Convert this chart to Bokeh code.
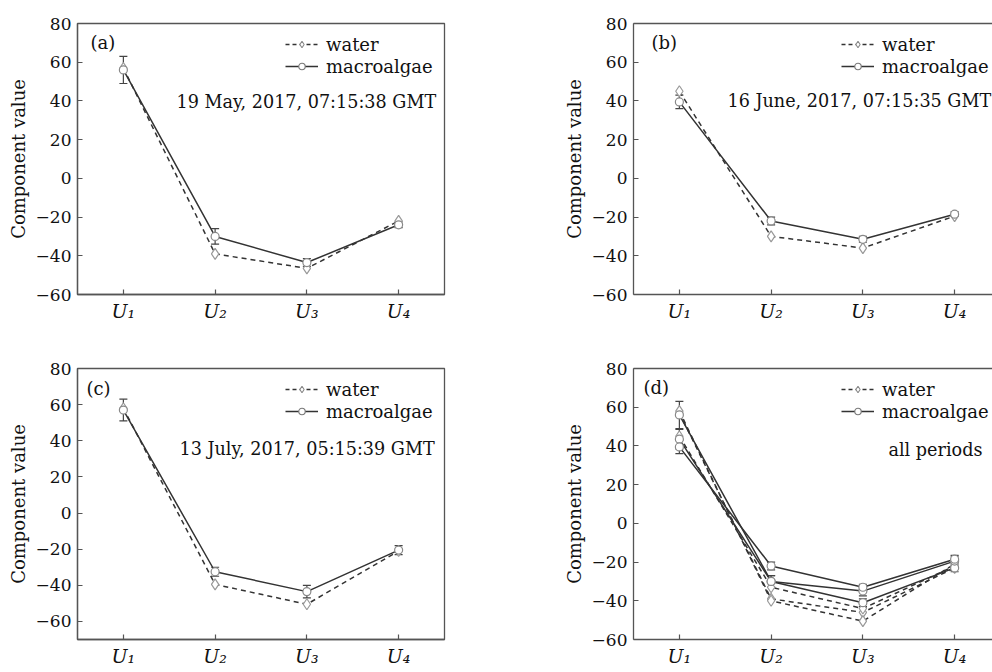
from bokeh.plotting import figure
from bokeh.models import (Range1d, FixedTicker, LinearAxis, Label, Legend, LegendItem,
                          Whisker, TeeHead, ColumnDataSource)
from bokeh.layouts import column, row
from bokeh.embed import file_html
from bokeh.resources import INLINE

# ---------------- data ----------------
categories = ["U\u2081", "U\u2082", "U\u2083", "U\u2084"]
y_ticks = [-60, -40, -20, 0, 20, 40, 60, 80]

a_water = [57, -39, -46.5, -22]
a_macro = [56, -30, -43.5, -24]
a_err = [7, 4, 2, 1.5]

b_water = [45, -30, -36, -19.5]
b_macro = [39.5, -22, -31.5, -18.5]
b_err = [3.5, 2, 1.5, 1.2]

c_water = [58, -39.5, -50.5, -21]
c_macro = [57, -32.5, -43.5, -20.5]
c_err = [6, 2.5, 3.5, 2.5]

d_water1 = [57, -39, -46, -23]
d_water2 = [45, -33, -44, -22]
d_water3 = [58, -40, -50.5, -21]
d_macro1 = [56, -30, -41, -23]
d_macro2 = [43.5, -30, -35, -19.5]
d_macro3 = [39.5, -22, -33, -18.5]
d_err1 = [7, 3, 2, 2]
d_err2 = [5, 3, 2.5, 3]
d_err3 = [3.5, 2, 1.5, 1.5]

FONT = "'DejaVu Serif', serif"
TXT = "#111111"
AX = "#555555"
LINE = "#333333"


def minus(v):
    return ("\u2212%d" % -v) if v < 0 else str(v)


def make_panel(tag, tag_x, tag_dy, note, note_x, note_dy, waters, macros, errs,
               ymin, width, fw, xmax, top, bottom, closed):
    fh = 271
    p = figure(width=width, height=top + fh + bottom,
               x_range=Range1d(0.5, xmax), y_range=Range1d(ymin, 80),
               output_backend="svg", toolbar_location=None,
               min_border_left=77, min_border_right=width - 77 - fw,
               min_border_top=top, min_border_bottom=bottom)
    p.grid.visible = False
    p.background_fill_color = "white"
    p.border_fill_color = "white"

    xs = list(range(1, len(categories) + 1))

    # axes
    xax = p.below[0]
    yax = p.left[0]
    yax.ticker = FixedTicker(ticks=y_ticks)
    yax.major_label_overrides = {v: minus(v) for v in y_ticks}
    yax.major_label_text_font = FONT
    yax.major_label_text_font_size = "17px"
    yax.major_label_text_color = TXT
    yax.major_label_standoff = 6
    yax.axis_label = "Component value"
    yax.axis_label_text_font = FONT
    yax.axis_label_text_font_size = "18px"
    yax.axis_label_text_font_style = "normal"
    yax.axis_label_text_color = TXT
    yax.axis_label_standoff = 4
    xax.ticker = FixedTicker(ticks=xs)
    xax.major_label_overrides = {x: c for x, c in zip(xs, categories)}
    xax.major_label_text_font = FONT
    xax.major_label_text_font_style = "italic"
    xax.major_label_text_font_size = "19px"
    xax.major_label_text_color = TXT
    xax.major_label_standoff = 5
    for ax in (xax, yax):
        ax.axis_line_color = AX
        ax.axis_line_width = 1.3
        ax.major_tick_line_color = AX
        ax.major_tick_line_width = 1.2
        ax.major_tick_in = 5
        ax.major_tick_out = 0
        ax.minor_tick_line_color = None

    if closed:
        p.outline_line_color = AX
        p.outline_line_width = 1.3
    else:
        # right edge of this panel is cut off in the reference: draw only the top edge
        p.outline_line_color = None
        top_ax = LinearAxis(ticker=FixedTicker(ticks=[]))
        top_ax.axis_line_color = AX
        top_ax.axis_line_width = 1.3
        top_ax.major_tick_line_color = None
        top_ax.minor_tick_line_color = None
        top_ax.major_label_text_font_size = "0px"
        top_ax.major_label_standoff = 0
        p.add_layout(top_ax, "above")

    # data
    for w in waters:
        p.line(xs, w, line_color=LINE, line_width=1.5, line_dash="5 4")
    for m in macros:
        p.line(xs, m, line_color=LINE, line_width=1.5)
    for w in waters:
        p.scatter(xs, w, marker="diamond", size=11, fill_color="white",
                  line_color="#999999", line_width=1.2)
    for m, e in zip(macros, errs):
        p.scatter(xs, m, marker="circle", size=8, fill_color="white",
                  line_color="#888888", line_width=1.2)
        src = ColumnDataSource(dict(x=xs, upper=[v + d for v, d in zip(m, e)],
                                    lower=[v - d for v, d in zip(m, e)]))
        p.add_layout(Whisker(base="x", upper="upper", lower="lower", source=src,
                             dimension="height", line_color="#444444", line_width=1.2,
                             upper_head=TeeHead(size=8, line_color="#444444", line_width=1.2),
                             lower_head=TeeHead(size=8, line_color="#444444", line_width=1.2)))

    # legend (legend-only renderers, data kept off-range)
    off_x, off_y = [-100], [-1000]
    lw_line = p.line(off_x, off_y, line_color=LINE, line_width=1.3, line_dash="4 3")
    lw_mark = p.scatter(off_x, off_y, marker="diamond", size=8, fill_color="white",
                        line_color="#888888", line_width=1.1)
    lm_line = p.line(off_x, off_y, line_color=LINE, line_width=1.3)
    lm_mark = p.scatter(off_x, off_y, marker="circle", size=6, fill_color="white",
                        line_color="#777777", line_width=1.1)
    leg = Legend(items=[LegendItem(label="water", renderers=[lw_line, lw_mark]),
                        LegendItem(label="macroalgae", renderers=[lm_line, lm_mark])],
                 location=(208, fh - 10 - 44))
    leg.label_text_font = FONT
    leg.label_text_font_size = "18px"
    leg.label_text_color = TXT
    leg.label_height = 22
    leg.glyph_height = 16
    leg.glyph_width = 33
    leg.label_standoff = 8
    leg.spacing = 0
    leg.padding = 0
    leg.margin = 0
    leg.border_line_color = None
    leg.background_fill_alpha = 0
    p.add_layout(leg, "center")

    p.add_layout(Label(x=tag_x, y=fh - tag_dy, x_units="screen", y_units="screen", text=tag,
                       text_baseline="middle", text_font=FONT, text_font_size="18px",
                       text_color=TXT))
    p.add_layout(Label(x=note_x, y=fh - note_dy, x_units="screen", y_units="screen", text=note,
                       text_baseline="middle", text_font=FONT, text_font_size="17.6px",
                       text_color=TXT))
    return p


pa = make_panel("(a)", 13, 19, "19 May, 2017, 07:15:38 GMT", 99, 78,
                [a_water], [a_macro], [a_err], -60, 556, 367, 4.5, 23, 42, True)
pb = make_panel("(b)", 18, 19, "16 June, 2017, 07:15:35 GMT", 94, 77,
                [b_water], [b_macro], [b_err], -60, 436, 359, 0.5 + 359 / 91.75, 23, 42, False)
pc = make_panel("(c)", 9, 20, "13 July, 2017, 05:15:39 GMT", 102, 80,
                [c_water], [c_macro], [c_err], -70, 556, 367, 4.5, 32, 33, True)
pd = make_panel("(d)", 10, 19, "all periods", 255, 81,
                [d_water1, d_water2, d_water3], [d_macro1, d_macro2, d_macro3],
                [d_err1, d_err2, d_err3], -60, 436, 359, 0.5 + 359 / 91.75, 32, 33, False)

layout = column(row(pa, pb), row(pc, pd))
open("out.html", "w").write(file_html(layout, INLINE))
